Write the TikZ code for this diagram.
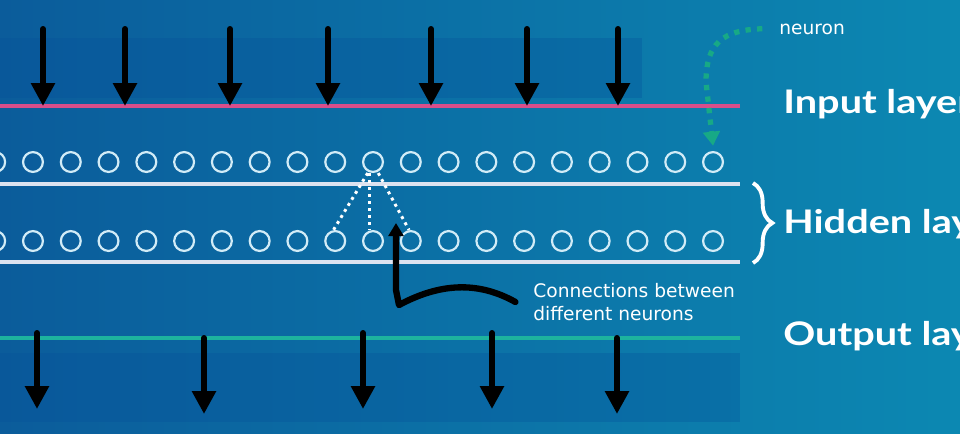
\documentclass[tikz,border=0pt]{standalone}
\usepackage{fontspec}
\setmainfont{DejaVu Sans}
\newfontfamily\layerfont{Lato}[FakeStretch=1.22]
\usetikzlibrary{arrows.meta,decorations.pathreplacing}
\definecolor{bgleft}{HTML}{0B5C9B}
\definecolor{bgright}{HTML}{0C88B2}
\definecolor{bandblue}{HTML}{05509A}
\definecolor{inpink}{HTML}{D94E8A}
\definecolor{outteal}{HTML}{1DB39E}
\definecolor{hidwhite}{HTML}{DDE3F0}
\definecolor{ringblue}{HTML}{D2ECF7}
\definecolor{pointgreen}{HTML}{17A986}

\begin{document}
\begin{tikzpicture}[x=0.02cm, y=-0.02cm,
    neuron/.style={circle, draw=ringblue, line width=1.25pt, inner sep=0pt, minimum size=11.3pt},
    feed/.style={line width=3.4pt, line cap=round, -{Triangle[width=13pt,length=13pt]}},
    pointer/.style={line width=3.6pt, line cap=round, line join=round, -{Triangle[width=8.5pt,length=7.5pt]}},
    link/.style={white, line width=1.7pt, dash pattern=on 1.7pt off 2.3pt},
    hint/.style={pointgreen, line width=3pt, dash pattern=on 3pt off 3.6pt, -{Triangle[width=9.5pt,length=8pt]}},
    layer/.style={anchor=base west, inner sep=0pt, text=white, font=\layerfont\bfseries\fontsize{18.5}{22}\selectfont},
    note/.style={anchor=west, inner sep=0pt, text=white, align=left, font=\fontsize{10.6}{13.6}\selectfont}]
    \useasboundingbox (0,0) rectangle (960,433);
    \clip (0,0) rectangle (960,433);
    \shade[left color=bgleft, right color=bgright] (0,0) rectangle (960,433);
    \fill[bandblue, opacity=0.3] (0,38) rectangle (642,98);
    \fill[bandblue, opacity=0.3] (0,353) rectangle (740,422);

    \draw[inpink, line width=2pt] (0,106) -- (740,106);
    \draw[hidwhite, line width=2pt] (0,184) -- (740,184);
    \draw[hidwhite, line width=2pt] (0,262) -- (740,262);
    \draw[outteal, line width=2pt] (0,338) -- (740,338);

    \foreach \i in {0,...,19} {
        \node[neuron] (t\i) at ({-4.8+37.78*\i},162) {};
        \node[neuron] (b\i) at ({-4.8+37.78*\i},241) {};
    }

    \foreach \x [count=\i] in {43,125,230,328,431,527,618} {
        \coordinate (in\i) at (\x,29);
        \coordinate (inhit\i) at (\x,106);
        \draw[feed] (in\i) -- (inhit\i);
    }
    \foreach \x/\ya/\yb [count=\i] in {37/333/409, 204/338/414, 363/333/409, 492/333/409, 617/338/414} {
        \coordinate (out\i) at (\x,\ya);
        \coordinate (outhit\i) at (\x,\yb);
        \draw[feed] (out\i) -- (outhit\i);
    }

    \draw[link] ([xshift=-3pt]t10.south) -- ([xshift=-1pt]b9.north);
    \draw[link] ([xshift=-2pt]t10.south) -- ([xshift=-2pt]b10.north);
    \draw[link] ([xshift=3pt]t10.south) -- ([xshift=-1pt]b11.north);

    \node[note] (conn) at (533,302) {Connections between\\different neurons};
    \coordinate (conntip) at (396,223);
    \draw[pointer] ([xshift=-10pt]conn.west) .. controls (478,281) and (440,283) .. (399,305) -- (396,290) -- (conntip);

    \node[note, anchor=base west] (neu) at (779,34) {neuron};
    \draw[hint] ([xshift=-9.5pt,yshift=3pt]neu.base west) .. controls (722,30) and (706,44) .. (706,82) -- ([yshift=3pt]t19.north);

    \node[layer] (inlab) at (783,113) {Input layer};
    \node[layer] (hidlab) at (783,233) {Hidden layer};
    \node[layer] (outlab) at (783,345) {Output layer};
    \draw[white, line width=2.2pt, decorate, decoration={brace, amplitude=11pt}] (753,183) -- (753,263);
\end{tikzpicture}
\end{document}
